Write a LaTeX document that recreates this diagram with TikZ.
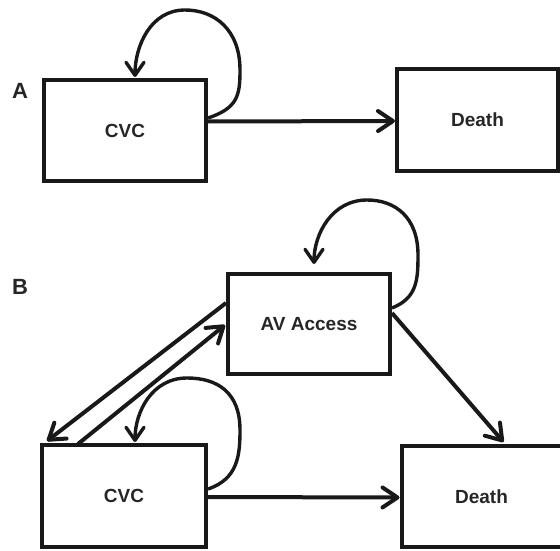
\documentclass[tikz,border=0pt]{standalone}
\usepackage{fontspec}
\setmainfont{Liberation Sans}
\usetikzlibrary{arrows.meta,calc}
\begin{document}
\begin{tikzpicture}[x=1pt,y=-1pt,
  box/.style={draw=black!90,line width=4pt,rectangle,inner sep=0pt,
    font=\fontsize{19}{22}\selectfont\bfseries,text=black!85},
  panel/.style={font=\fontsize{22}{26}\selectfont\bfseries,text=black!85},
  conn/.style={draw=black!90,line width=4pt,
    -{Straight Barb[length=15pt,width=20pt,line cap=round,line join=round]}},
  loopc/.style={draw=black!90,line width=3.4pt,
    -{Straight Barb[length=13pt,width=18pt,line cap=round,line join=round]}}]
\useasboundingbox (0,0) rectangle (560,551);
% Panel A
\node[panel] (labA) at (20,91) {A};
\node[box,minimum width=162pt,minimum height=101pt] (cvcA) at (125,130.5) {CVC};
\node[box,minimum width=161pt,minimum height=102pt] (deathA) at (477.5,120) {Death};
\draw[conn] ($(cvcA.east)+(0,-9)$) -- ($(deathA.west)+(0,1)$);
\draw[loopc] ($(cvcA.north east)+(0,40)$)
  .. controls +(30,-10) and +(0,25) .. ($(cvcA.north east)+(32,-8)$)
  .. controls +(0,-40) and +(30,0) .. ($(cvcA.north east)+(-23,-68)$)
  .. controls +(-35,0) and +(0,-30) .. ($(cvcA.north east)+(-73,-1)$);
% Panel B
\node[panel] (labB) at (20,287) {B};
\node[box,minimum width=162pt,minimum height=100pt] (av) at (309,324) {AV Access};
\node[box,minimum width=164pt,minimum height=102pt] (cvcB) at (124,496) {CVC};
\node[box,minimum width=160pt,minimum height=101pt] (deathB) at (481.5,496.5) {Death};
\draw[conn] ($(cvcB.east)+(0,1)$) -- ($(deathB.west)+(0,1)$);
\draw[conn] ($(av.east)+(0,-11)$) -- ($(deathB.north)+(22,-2)$);
\draw[conn] ($(av.west)+(0,-21)$) -- ($(cvcB.north west)+(7,-2)$);
\draw[conn] ($(cvcB.north west)+(38,1)$) -- ($(av.west)+(-1,1)$);
\draw[loopc] ($(cvcB.north east)+(0,46)$)
  .. controls +(30,-10) and +(0,25) .. ($(cvcB.north east)+(32,-13)$)
  .. controls +(0,-38) and +(30,0) .. ($(cvcB.north east)+(-21,-65)$)
  .. controls +(-35,0) and +(0,-30) .. ($(cvcB.north east)+(-73,-1)$);
\draw[loopc] ($(av.north east)+(0,36)$)
  .. controls +(25,-10) and +(0,25) .. ($(av.north east)+(26,-17)$)
  .. controls +(0,-38) and +(28,0) .. ($(av.north east)+(-25,-72)$)
  .. controls +(-35,0) and +(0,-30) .. ($(av.north east)+(-78,-8)$);
\end{tikzpicture}
\end{document}
